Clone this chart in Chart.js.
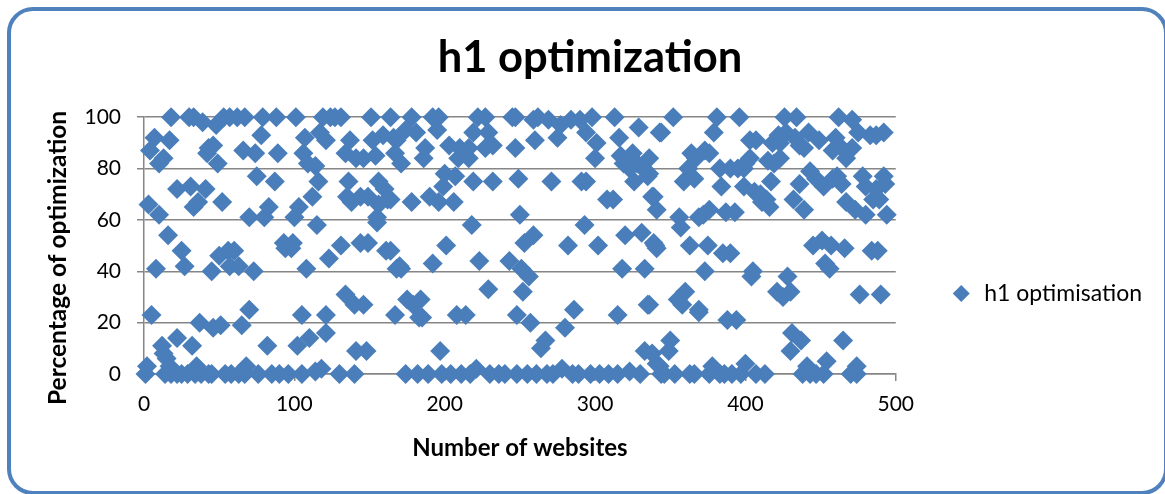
<!DOCTYPE html>
<html>
<head>
<meta charset="utf-8">
<script src="https://cdn.jsdelivr.net/npm/chart.js@4"></script>
<style>
  html, body { margin: 0; padding: 0; background: #fff; overflow: hidden; }
  #frame { position: absolute; left: 7px; top: 7px; width: 1161px; height: 488px; box-sizing: border-box;
           border: 4px solid #4f81bd; border-radius: 26px; }
  #h1Chart { position: absolute; left: 0; top: 0; }
</style>
</head>
<body>
<div id="frame"></div>
<canvas id="h1Chart" width="1165" height="494"></canvas>
<script>
const seriesName = "h1 optimisation";
const yAxisName = "Percentage of optimization";
const xTicks = [0, 100, 200, 300, 400, 500];
const yTicks = [0, 20, 40, 60, 80, 100];

const sitesLeft = [
  18, 30, 33, 39, 48, 53, 57, 62, 67, 79, 88, 101, 119, 124, 127, 131, 151, 164,
  7, 17, 4, 13, 10, 46, 43, 42, 49, 66, 74, 78, 89, 107, 106, 109, 114, 117, 121, 137, 134, 141, 146, 154, 152, 159, 166, 167,
  75, 87, 22, 31, 41, 36, 33, 52, 3, 10, 83, 103, 70, 80, 100, 112, 116, 115, 136, 135, 138, 144, 149, 156, 160, 162, 156, 155, 155,
  16, 25, 27, 8, 45, 50, 56, 60, 57, 63, 73, 93, 99, 94, 98, 108, 123, 131, 144, 149, 161, 168,
  134, 140, 146, 5, 70, 105, 121, 167, 37, 46, 51, 65,
  22, 32, 12, 13, 15, 121, 110, 102, 82, 141, 148, 2, 35, 68, 118, 114, 17
];
const pctLeft = [
  100, 100, 100, 98, 97, 100, 100, 100, 100, 100, 100, 100, 100, 100, 100, 100, 100, 100,
  92, 91, 87, 84, 82, 89, 88, 86, 82, 87, 86, 93, 86, 92, 86, 82, 81, 94, 91, 91, 86, 84, 84, 85, 91, 93, 92, 86,
  77, 75, 72, 73, 72, 67, 65, 67, 66, 62, 65, 65, 61, 61, 61, 69, 75, 58, 75, 69, 67, 69, 69, 75, 72, 68, 66, 61, 59,
  54, 48, 42, 41, 40, 46, 48, 48, 42, 42, 40, 51, 51, 49, 49, 41, 45, 50, 51, 51, 48, 41,
  31, 27, 27, 23, 25, 23, 23, 23, 20, 18, 19, 19,
  14, 11, 11, 8, 6, 16, 14, 11, 11, 9, 9, 3, 3, 3, 2, 1, 3
];

const sitesMiddle = [
  178, 192, 196, 222, 227, 245, 247, 259, 262, 269, 277, 284, 290, 298, 313,
  174, 168, 181, 195, 219, 229, 260, 275, 294, 301, 316, 329, 343,
  187, 186, 171, 203, 209, 216, 210, 216, 227, 232, 247, 300, 317, 325, 336, 328, 319, 322, 332, 323, 335, 326,
  200, 207, 199, 219, 232, 249, 271, 291, 294, 164, 178, 190, 196, 206, 308, 312, 338, 341, 250, 218, 293,
  201, 259, 253, 282, 302, 320, 331, 339, 341, 164, 171, 170, 192, 223, 243, 251, 256, 318, 333,
  229, 252, 175, 184, 179, 185, 183, 208, 214, 248, 257, 286, 315, 335,
  280, 267, 264, 197, 333, 338, 341, 221, 278, 323
];
const pctMiddle = [
  100, 100, 100, 100, 100, 100, 100, 99, 100, 99, 97, 99, 99, 100, 100,
  95, 91, 94, 95, 94, 94, 91, 92, 94, 90, 92, 96, 94,
  88, 84, 82, 89, 84, 84, 88, 88, 88, 89, 88, 84, 85, 86, 84, 82, 82, 83, 80, 80, 77, 75,
  78, 77, 73, 75, 75, 76, 75, 75, 75, 68, 67, 69, 67, 67, 68, 68, 69, 64, 62, 58, 58,
  50, 54, 51, 50, 50, 54, 55, 51, 49, 48, 41, 42, 43, 44, 44, 41, 38, 41, 41,
  33, 32, 29, 29, 27, 22, 22, 23, 23, 23, 20, 25, 23, 27,
  18, 13, 10, 9, 9, 8, 4, 2, 2, 1
];

const sitesRight = [
  352, 381, 396, 426, 434, 462, 471,
  344, 379, 475, 483, 487, 492, 403, 407, 422, 427, 433, 442, 449, 460, 418, 423, 436, 439, 458, 471, 464, 467,
  364, 373, 376, 367, 362, 403, 415, 423, 419, 400, 383, 390, 395, 399, 336,
  359, 366, 384, 399, 417, 436, 443, 447, 452, 458, 461, 464, 478, 492, 480, 493, 487, 485, 489,
  406, 410, 414, 411, 416, 432, 439, 467, 473, 480, 494, 339, 356, 369, 372, 376, 387, 393, 357,
  340, 363, 375, 385, 390, 445, 451, 457, 466, 484, 488, 453, 456, 373, 404, 405, 428,
  421, 425, 430, 476, 490, 360, 355, 358, 369, 369, 388, 394, 336,
  431, 437, 430, 465, 350, 349, 454, 400, 474, 343, 378, 441
];
const pctRight = [
  100, 100, 100, 100, 100, 100, 99,
  94, 94, 94, 93, 93, 94, 91, 91, 93, 94, 92, 94, 91, 92, 90, 90, 89, 88, 87, 88, 88, 84,
  86, 87, 86, 84, 80, 84, 83, 84, 82, 82, 80, 80, 80, 80, 78,
  75, 76, 73, 73, 75, 74, 79, 76, 73, 76, 77, 74, 77, 77, 73, 74, 72, 68, 68,
  71, 70, 68, 67, 65, 68, 64, 67, 64, 62, 62, 69, 61, 61, 62, 64, 63, 63, 57,
  50, 50, 50, 47, 47, 50, 52, 50, 49, 48, 48, 43, 41, 40, 38, 40, 38,
  32, 30, 32, 31, 31, 32, 29, 27, 25, 24, 21, 21, 27,
  16, 13, 9, 13, 13, 9, 5, 4, 3, 3, 3, 3
];

// bottom row, everything sitting on the axis
const sitesAtZero = [
  1, 14, 18, 22, 25, 29, 34, 38, 43, 45, 54, 58, 63, 67, 76, 85, 90, 96, 105, 130, 140,
  174, 182, 189, 198, 204, 211, 217, 230, 236, 240, 248, 255, 261, 268, 272, 285, 289, 297, 303, 309, 315, 330,
  344, 346, 353, 363, 366, 376, 383, 386, 391, 397, 407, 413, 438, 443, 447, 452, 470, 474
];

const blue = "#4a7ebb";
const grey = "#868686";
const textFont = "Lato";

const sites = sitesLeft.concat(sitesMiddle, sitesRight, sitesAtZero);
const pcts = pctLeft.concat(pctMiddle, pctRight, sitesAtZero.map(() => 0));
const points = sites.map((s, i) => ({ x: s, y: pcts[i] }));

Chart.defaults.font.family = textFont;
Chart.defaults.color = "#000";

// legend sits lower and further right than chart.js would put it, title a bit right too
const nudgeBoxes = {
  id: "nudgeBoxes",
  beforeDraw(chart) {
    chart.legend.left += 44;
    chart.legend.right += 44;
    chart.legend.top += 46;
    chart.legend.bottom += 46;
    chart.titleBlock.left += 14;
    chart.titleBlock.right += 14;
  },
  // y title is not centred on the plot in the original, so the scale title won't do
  afterDraw(chart) {
    const ctx = chart.ctx;
    ctx.save();
    ctx.translate(58, 258);
    ctx.rotate(-Math.PI / 2);
    ctx.font = "bold 24.5px " + textFont;
    ctx.fillStyle = "#000";
    ctx.textAlign = "center";
    ctx.textBaseline = "middle";
    ctx.fillText(yAxisName, 0, 0);
    ctx.restore();
  },
};

new Chart(document.getElementById("h1Chart"), {
  type: "scatter",
  data: {
    datasets: [
      {
        label: seriesName,
        data: points,
        pointStyle: "rectRot",
        pointRadius: 10,
        pointBorderWidth: 0,
        backgroundColor: blue,
        clip: false,
      },
    ],
  },
  options: {
    responsive: false,
    animation: false,
    layout: { padding: { left: 44, right: 57, top: 32, bottom: 31 } },
    plugins: {
      title: {
        display: true,
        text: "h1 optimization",
        font: { size: 43.5, weight: "bold" },
        padding: { top: 0, bottom: 33 },
      },
      legend: {
        position: "right",
        labels: {
          usePointStyle: true,
          pointStyle: "rectRot",
          boxHeight: 12,
          font: { size: 23 },
          padding: 10,
        },
      },
      tooltip: { enabled: false },
    },
    scales: {
      x: {
        type: "linear",
        min: 0,
        max: 500,
        afterBuildTicks: (axis) => { axis.ticks = xTicks.map((v) => ({ value: v })); },
        afterFit: (axis) => { axis.height = 89; },
        grid: { drawOnChartArea: false, color: grey, lineWidth: 1.5, tickLength: 7 },
        border: { color: grey, width: 1.5 },
        ticks: { font: { size: 21 }, padding: 11, maxRotation: 0 },
        title: { display: true, text: "Number of websites", font: { size: 24, weight: "bold" }, padding: { top: 10, bottom: 0 } },
      },
      y: {
        min: 0,
        max: 100,
        afterBuildTicks: (axis) => { axis.ticks = yTicks.map((v) => ({ value: v })); },
        afterFit: (axis) => { axis.width = 100; },
        grid: { color: grey, lineWidth: 1.5, tickLength: 7 },
        border: { color: grey, width: 1.5 },
        ticks: { font: { size: 21 }, padding: 16 },
      },
    },
  },
  plugins: [nudgeBoxes],
});
</script>
</body>
</html>
